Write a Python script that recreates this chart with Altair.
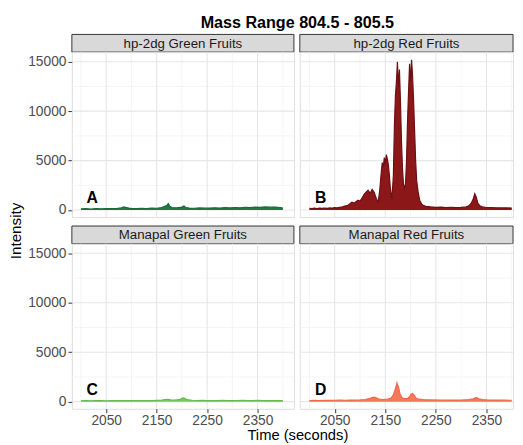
import altair as alt
import pandas as pd

# ---------------- data ----------------
title_text = "Mass Range 804.5 - 805.5"
panel_labels = ["hp-2dg Green Fruits", "hp-2dg Red Fruits", "Manapal Green Fruits", "Manapal Red Fruits"]
panel_letters = ["A", "B", "C", "D"]

x_major = [2050, 2150, 2250, 2350]
x_minor = [2000, 2100, 2200, 2300, 2400]
y_major = [0, 5000, 10000, 15000]
y_minor = [2500, 7500, 12500]

# A: hp-2dg Green Fruits
t_A = [2000, 2010, 2020, 2030, 2040, 2050, 2060, 2070, 2080, 2085, 2090, 2095, 2100, 2110, 2120,
       2130, 2140, 2150, 2160, 2165, 2170, 2173, 2176, 2180, 2190, 2200, 2204, 2208, 2215, 2225,
       2235, 2245, 2255, 2265, 2275, 2285, 2295, 2305, 2315, 2325, 2335, 2345, 2355, 2365, 2375,
       2385, 2395, 2400]
i_A = [120, 140, 110, 150, 130, 140, 160, 150, 220, 320, 260, 200, 170, 150, 180,
       160, 200, 180, 260, 350, 450, 650, 380, 250, 230, 300, 420, 260, 200, 180,
       220, 190, 210, 230, 200, 240, 220, 250, 230, 280, 260, 300, 280, 320, 290,
       310, 260, 200]

# B: hp-2dg Red Fruits
t_B = [2000, 2005, 2010, 2015, 2020, 2025, 2030, 2035, 2040, 2045, 2050, 2055, 2060, 2065, 2070,
       2075, 2080, 2084, 2088, 2092, 2096, 2100, 2104, 2108, 2112, 2116, 2120, 2124, 2128, 2132,
       2136, 2139, 2142, 2144, 2146, 2148, 2150, 2152, 2154, 2156, 2158, 2160, 2163, 2166, 2168,
       2170, 2172, 2174, 2176, 2178, 2180, 2182, 2184, 2186, 2188, 2190, 2192, 2194, 2196, 2198,
       2200, 2202, 2204, 2206, 2208, 2210, 2212, 2215, 2218, 2222, 2226, 2230, 2240, 2250, 2260,
       2270, 2280, 2290, 2300, 2310, 2315, 2320, 2324, 2327, 2330, 2333, 2337, 2342, 2350, 2360,
       2370, 2380, 2390, 2400]
i_B = [180, 150, 200, 160, 190, 170, 210, 180, 220, 200, 240, 230, 280, 320, 400,
       450, 650, 800, 700, 850, 1000, 900, 1200, 1600, 1800, 2000, 1700, 2100, 1800, 1200,
       800, 2000, 3800, 4800, 4300, 5300, 4700, 5600, 5200, 4600, 3600, 2200, 1100, 3500, 8500,
       11500, 13000, 15000, 12500, 14200, 11000, 7000, 4200, 2600, 2200, 2700, 5000, 9000, 12000, 14800,
       13000, 15200, 13500, 11000, 8000, 5000, 3000, 1800, 1000, 600, 450, 380, 320, 280, 300,
       260, 280, 250, 270, 320, 420, 700, 1150, 1650, 1300, 700, 420, 320, 260, 240,
       230, 220, 230, 200]

# C: Manapal Green Fruits
t_C = [2000, 2010, 2020, 2030, 2040, 2050, 2060, 2070, 2080, 2090, 2100, 2110, 2120, 2130, 2140,
       2150, 2160, 2166, 2172, 2178, 2185, 2195, 2200, 2204, 2210, 2220, 2230, 2240, 2250, 2260,
       2270, 2280, 2290, 2300, 2310, 2320, 2330, 2340, 2350, 2360, 2370, 2380, 2390, 2400]
i_C = [90, 100, 90, 110, 100, 95, 105, 100, 110, 100, 105, 110, 100, 120, 110,
       130, 150, 200, 240, 180, 150, 200, 330, 380, 200, 140, 120, 130, 110, 120,
       110, 130, 120, 110, 120, 130, 120, 110, 130, 120, 110, 120, 110, 100]

# D: Manapal Red Fruits
t_D = [2000, 2010, 2020, 2030, 2040, 2050, 2060, 2070, 2080, 2090, 2100, 2110, 2118, 2124, 2128,
       2132, 2138, 2145, 2155, 2162, 2166, 2170, 2173, 2176, 2179, 2183, 2188, 2194, 2198, 2201,
       2204, 2207, 2211, 2216, 2225, 2240, 2260, 2280, 2300, 2315, 2324, 2328, 2331, 2335, 2342,
       2355, 2370, 2385, 2400]
i_D = [120, 130, 120, 140, 130, 140, 150, 140, 160, 170, 180, 220, 300, 420, 450,
       380, 250, 220, 250, 400, 700, 1300, 1900, 1500, 800, 400, 300, 330, 500, 750,
       830, 650, 350, 250, 200, 180, 170, 160, 170, 200, 280, 380, 400, 300, 200,
       170, 160, 150, 140]

series = [(t_A, i_A), (t_B, i_B), (t_C, i_C), (t_D, i_D)]
fills = ["#1f7a45", "#8b1719", "#78c85a", "#f4785a"]
strokes = ["#17683a", "#6e0f12", "#6ab94e", "#ee6a4b"]

FONT = "Liberation Sans"
W_L, W_R = 226, 217
H_P, H_S = 168, 18
GAP = 9
Y_DOM = [-720, 15970]
X_DOM_L = [1982, 2422]
X_DOM_R = [1981, 2402.6]
GRID = "#e6e6e6"
GRID_MINOR = "#f1f1f1"
INK = "#333333"


def strip(label, w, top_gap, title=False):
    h = H_S + top_gap
    d = pd.DataFrame({"L": [label]})
    rect = alt.Chart(d).mark_rect(fill="#d9d9d9", stroke=INK, strokeWidth=1).encode(
        x=alt.value(0), x2=alt.value(w), y=alt.value(top_gap), y2=alt.value(h))
    txt = alt.Chart(d).mark_text(font=FONT, fontSize=13.5, color="#1a1a1a", baseline="middle").encode(
        x=alt.value(w / 2), y=alt.value(top_gap + H_S / 2 + 0.5), text="L:N")
    layers = [rect, txt]
    if title:
        tdf = pd.DataFrame({"T": [title_text]})
        layers.append(alt.Chart(tdf).mark_text(font=FONT, fontSize=16.4, fontWeight="bold",
                                               color="#000000", baseline="middle").encode(
            x=alt.value(229.5), y=alt.value(-12), text="T:N"))
    return alt.layer(*layers).properties(width=w, height=h,
                                         view=alt.ViewBackground(strokeOpacity=0))


def panel(idx, w, xdom, show_y, show_x, y_title=False, x_title=False):
    t, v = series[idx]
    df = pd.DataFrame({"t": t, "v": v})
    xs = alt.Scale(domain=xdom, nice=False, zero=False)
    ys = alt.Scale(domain=Y_DOM, nice=False, zero=False)
    if show_x:
        xa = alt.Axis(values=x_major, format="d", grid=False, domain=False, tickColor=INK,
                      tickSize=4, labelFont=FONT, labelFontSize=14, labelColor="#4d4d4d",
                      labelPadding=1, title="Time (seconds)" if x_title else "",
                      titleFont=FONT, titleFontSize=15, titleFontWeight="normal",
                      titleColor="#000000", titleX=229.5, titleY=19, titleBaseline="top",
                      titleAnchor="middle")
    else:
        xa = None
    if show_y:
        ya = alt.Axis(values=y_major, format="d", grid=False, domain=False, tickColor=INK,
                      tickSize=4, labelFont=FONT, labelFontSize=14, labelColor="#4d4d4d",
                      labelPadding=2, title="Intensity" if y_title else "",
                      titleFont=FONT, titleFontSize=15.5, titleFontWeight="normal",
                      titleColor="#000000", titleX=-49, titleY=H_P + GAP / 2 + H_S / 2,
                      titleAnchor="middle")
    else:
        ya = None

    def X(f):
        return alt.X(f, type="quantitative", scale=xs, axis=xa, title=None) if xa is None else alt.X(f, type="quantitative", scale=xs, axis=xa)

    def Y(f):
        return alt.Y(f, type="quantitative", scale=ys, axis=ya, title=None) if ya is None else alt.Y(f, type="quantitative", scale=ys, axis=ya)

    gxm = alt.Chart(pd.DataFrame({"g": x_minor})).mark_rule(color=GRID_MINOR, strokeWidth=0.7).encode(x=X("g"))
    gym = alt.Chart(pd.DataFrame({"g": y_minor})).mark_rule(color=GRID_MINOR, strokeWidth=0.7).encode(y=Y("g"))
    gx = alt.Chart(pd.DataFrame({"g": x_major})).mark_rule(color=GRID, strokeWidth=1.1).encode(x=X("g"))
    gy = alt.Chart(pd.DataFrame({"g": y_major})).mark_rule(color=GRID, strokeWidth=1.1).encode(y=Y("g"))
    area = alt.Chart(df).mark_area(color=fills[idx], opacity=1).encode(
        x=X("t"), y=Y("v"), y2=alt.datum(0))
    line = alt.Chart(df).mark_line(color=strokes[idx], strokeWidth=1.2).encode(x=X("t"), y=Y("v"))
    letter = alt.Chart(pd.DataFrame({"L": [panel_letters[idx]]})).mark_text(
        font=FONT, fontSize=16, fontWeight="bold", color="#000000", baseline="middle").encode(
        x=alt.X(datum=2022, type="quantitative", scale=xs),
        y=alt.Y(datum=1200, type="quantitative", scale=ys), text="L:N")
    return alt.layer(gxm, gym, gx, gy, area, line, letter).properties(width=w, height=H_P)


cells = [
    strip(panel_labels[0], W_L, 0, title=True),
    strip(panel_labels[1], W_R, 0),
    panel(0, W_L, X_DOM_L, True, False, y_title=True),
    panel(1, W_R, X_DOM_R, False, False),
    strip(panel_labels[2], W_L, GAP),
    strip(panel_labels[3], W_R, GAP),
    panel(2, W_L, X_DOM_L, True, True, x_title=True),
    panel(3, W_R, X_DOM_R, False, True),
]

chart = alt.ConcatChart(
    concat=cells, columns=2, spacing={"row": 0, "column": 6}, bounds="flush",
    padding={"left": 0, "top": 3, "right": 0, "bottom": 0},
).configure_view(stroke=INK, strokeWidth=1).configure(background="white")

chart.save("out.html", embed_options={"renderer": "svg", "actions": False})
